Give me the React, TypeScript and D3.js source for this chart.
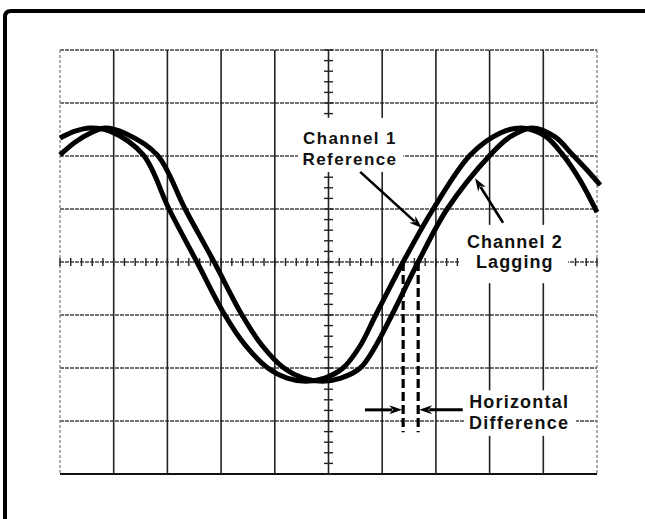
import * as d3 from 'd3';

// graticule: 10 x 8 divisions, 5 minor ticks per division on the centre axes
const xDivisions = d3.range(0, 11);
const yDivisions = d3.range(-4, 5);
const minorTicksX = d3.range(0, 51).map(i => i / 5);
const minorTicksY = d3.range(-20, 21).map(i => i / 5);

// traces, in divisions [x, y]
const channel1: [number, number][] = [
  [0.0, 2.34], [0.28, 2.47], [0.56, 2.53], [0.93, 2.47], [1.55, 2.02],
  [2.03, 1.0], [2.55, 0], [3.07, -1.0], [3.45, -1.57], [3.87, -2.0],
  [4.23, -2.19], [4.58, -2.25], [4.93, -2.19], [5.27, -2.0], [5.59, -1.58],
  [5.88, -1.0], [6.39, 0], [6.95, 1.0], [7.64, 2.02], [8.19, 2.43],
  [8.6, 2.53], [9.03, 2.38], [9.35, 2.04], [9.68, 1.55], [10.0, 0.94],
];
const channel2: [number, number][] = [
  [0.0, 2.02], [0.28, 2.26], [0.56, 2.43], [0.84, 2.53], [1.21, 2.43],
  [1.81, 2.02], [2.33, 1.0], [2.87, 0], [3.39, -1.0], [3.76, -1.57],
  [4.17, -2.0], [4.53, -2.19], [4.88, -2.25], [5.23, -2.19], [5.59, -2.0],
  [5.88, -1.58], [6.18, -1.0], [6.67, 0], [7.21, 1.0], [8.01, 2.02],
  [8.38, 2.36], [8.79, 2.53], [9.22, 2.36], [9.53, 2.04], [9.81, 1.74],
  [10.06, 1.45],
];

const ch1Label = ['Channel 1', 'Reference'];
const ch2Label = ['Channel 2', 'Lagging'];
const diffLabel = ['Horizontal', 'Difference'];

const width = 645;
const height = 519;

const x = d3.scaleLinear().domain([0, 10]).range([60, 597]);
const y = d3.scaleLinear().domain([-4, 4]).range([474, 50]);

// rising zero crossing of a trace (where the dashed markers sit)
const risingCrossing = (pts: [number, number][]) => {
  for (let i = 1; i < pts.length; i++) {
    const [x0, y0] = pts[i - 1];
    const [x1, y1] = pts[i];
    if (y0 < 0 && y1 >= 0) return x0 + (x1 - x0) * (-y0 / (y1 - y0));
  }
  return 0;
};

const Arrow = ({ x1, y1, x2, y2, size = 13, w = 2.6 }) => {
  const a = Math.atan2(y2 - y1, x2 - x1);
  const bx = x2 - size * Math.cos(a);
  const by = y2 - size * Math.sin(a);
  const nx = -Math.sin(a) * 4.5;
  const ny = Math.cos(a) * 4.5;
  return (
    <g>
      <line x1={x1} y1={y1} x2={bx + 3 * Math.cos(a)} y2={by + 3 * Math.sin(a)} stroke="#000" strokeWidth={w} />
      <path d={`M${x2},${y2}L${bx + nx},${by + ny}L${bx + 4 * Math.cos(a)},${by + 4 * Math.sin(a)}L${bx - nx},${by - ny}Z`} fill="#000" />
    </g>
  );
};

const Label = ({ cx, lines, base, gap, size, spacing }) => (
  <g fontFamily="'Liberation Sans', Arial, sans-serif" fontWeight="bold" fontSize={size} fill="#111" textAnchor="middle">
    {lines.map((t, i) => (
      <text key={t} x={cx} y={base + i * gap} letterSpacing={spacing}>{t}</text>
    ))}
  </g>
);

const App = () => {
  const line = d3.line<[number, number]>()
    .x(d => x(d[0]))
    .y(d => y(d[1]))
    .curve(d3.curveCatmullRom.alpha(0.5));

  const c1 = risingCrossing(channel1);
  const c2 = risingCrossing(channel2);

  return (
    <svg width={width} height={height} style={{ position: 'absolute', left: 0, top: 0, background: '#fff' }}>
      {/* frame */}
      <path d="M5,519 L5,17 Q5,11 11,11 L645,11" fill="none" stroke="#000" strokeWidth={4} />

      {/* horizontal grid lines */}
      {yDivisions.map(d => (
        <line key={'h' + d} x1={x(0)} x2={x(10)} y1={y(d)} y2={y(d)}
          stroke={d === -4 ? '#111' : '#444'} strokeWidth={d === -4 ? 2 : 1.4}
          strokeDasharray={d === -4 ? undefined : '4 1'} />
      ))}
      {/* vertical grid lines */}
      {xDivisions.map(d => (
        <line key={'v' + d} x1={x(d)} x2={x(d)} y1={y(4)} y2={y(-4)}
          stroke={d === 0 || d === 10 ? '#777' : '#222'}
          strokeWidth={d === 0 || d === 10 ? 1.2 : 1.6}
          strokeDasharray={d === 0 || d === 10 ? '3 2' : undefined} />
      ))}

      {/* minor ticks on centre axes */}
      {minorTicksX.map(t => (
        <line key={'tx' + t} x1={x(t)} x2={x(t)} y1={y(0) - 4} y2={y(0) + 4} stroke="#222" strokeWidth={1.4} />
      ))}
      {minorTicksY.map(t => (
        <line key={'ty' + t} x1={x(5) - 4.5} x2={x(5) + 4.5} y1={y(t)} y2={y(t)} stroke="#222" strokeWidth={1.4} />
      ))}

      {/* label backgrounds hide the graticule */}
      <rect x={x(4.43)} y={y(2.72)} width={x(6.39) - x(4.43)} height={y(1.7) - y(2.72)} fill="#fff" />
      <rect x={x(7.45)} y={y(0.7)} width={x(9.46) - x(7.45)} height={y(-0.4) - y(0.7)} fill="#fff" />
      <rect x={x(7.54)} y={y(-2.42)} width={x(9.61) - x(7.54)} height={y(-3.28) - y(-2.42)} fill="#fff" />

      {/* traces */}
      <path d={line(channel1) || ''} fill="none" stroke="#000" strokeWidth={5} />
      <path d={line(channel2) || ''} fill="none" stroke="#000" strokeWidth={5} />

      {/* dashed markers at the zero crossings */}
      {[c1, c2].map((c, i) => (
        <line key={'m' + i} x1={x(c)} x2={x(c)} y1={y(0)} y2={y(-3.21)}
          stroke="#000" strokeWidth={3.2} strokeDasharray="9 4" />
      ))}

      {/* annotations */}
      <Arrow x1={x(5.59)} y1={y(1.7)} x2={x(6.74)} y2={y(0.64)} />
      <Arrow x1={x(8.25)} y1={y(0.74)} x2={x(7.73)} y2={y(1.58)} />
      <Arrow x1={x(5.68)} y1={y(-2.79)} x2={x(c1) - 1} y2={y(-2.79)} w={3} />
      <Arrow x1={x(7.5)} y1={y(-2.79)} x2={x(c2) + 1} y2={y(-2.79)} w={3} />

      <Label cx={x(5.4)} lines={ch1Label} base={y(2.23)} gap={21} size={17} spacing={1.4} />
      <Label cx={x(8.47)} lines={ch2Label} base={y(0.26)} gap={20} size={18} spacing={1.1} />
      <Label cx={x(8.55)} lines={diffLabel} base={y(-2.75)} gap={21} size={18} spacing={1.2} />
    </svg>
  );
};

export default App;
